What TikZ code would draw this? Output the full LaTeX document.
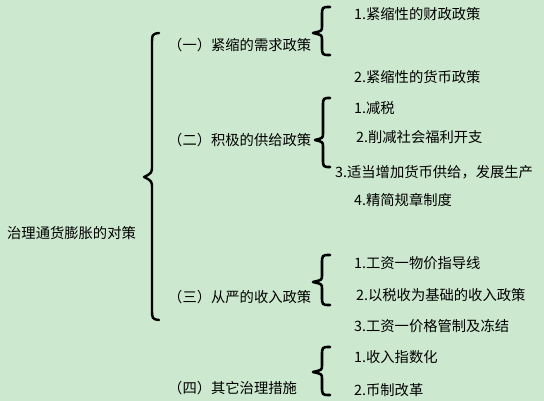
\documentclass[tikz,border=0pt]{standalone}
\usepackage{fontspec}
\setmainfont{Noto Sans CJK SC}
\definecolor{bgc}{RGB}{204,232,207}
\tikzset{
  txt/.style={anchor=west,inner sep=0pt,font=\fontsize{14.3}{16}\selectfont},
  bracepath/.style={line width=2.6pt,line cap=round,line join=round,black},
}
\newcommand{\mybrace}[6]{% xe, yt, xv, xt, ym, yb
  \draw[bracepath] (#1,#2) .. controls (#3,#2) .. (#3,#2+9)
     -- (#3,#5-7) .. controls (#3,#5-2) .. (#4,#5)
     .. controls (#3,#5+2) .. (#3,#5+7)
     -- (#3,#6-9) .. controls (#3,#6) .. (#1,#6);}
\begin{document}
\begin{tikzpicture}[x=1pt,y=-1pt]
\fill[bgc] (0,0) rectangle (544,401);
\useasboundingbox (0,0) rectangle (544,401);

\node[txt] (root) at (7,233) {治理通货膨胀的对策};

\node[txt] (l1) at (168,45)  {（一）紧缩的需求政策};
\node[txt] (l2) at (168,140) {（二）积极的供给政策};
\node[txt] (l3) at (168,297) {（三）从严的收入政策};
\node[txt] (l4) at (168,388) {（四）其它治理措施};

\node[txt] (a1) at (354,14)  {1.紧缩性的财政政策};
\node[txt] (a2) at (354,77)  {2.紧缩性的货币政策};
\node[txt] (b1) at (354,108) {1.减税};
\node[txt] (b2) at (356,137) {2.削减社会福利开支};
\node[txt] (b3) at (335,172) {3.适当增加货币供给，发展生产};
\node[txt] (b4) at (354,200) {4.精简规章制度};
\node[txt] (c1) at (354,263) {1.工资一物价指导线};
\node[txt] (c2) at (356,295) {2.以税收为基础的收入政策};
\node[txt] (c3) at (354,326) {3.工资一价格管制及冻结};
\node[txt] (d1) at (354,357) {1.收入指数化};
\node[txt] (d2) at (354,390) {2.币制改革};

% big brace
\draw[bracepath,line width=2.4pt] (159,33) .. controls (152,34) .. (152,46)
   -- (152,165) .. controls (152,173) .. (144,177)
   .. controls (152,181) .. (152,189)
   -- (152,308) .. controls (152,319) .. (159,320);

\mybrace{330}{7}{322}{313}{33}{55}
\mybrace{330}{98}{323}{315}{140}{167}
\mybrace{330}{255}{322}{313}{282}{305}
\mybrace{330}{347}{322}{313}{372}{395}
\end{tikzpicture}
\end{document}
